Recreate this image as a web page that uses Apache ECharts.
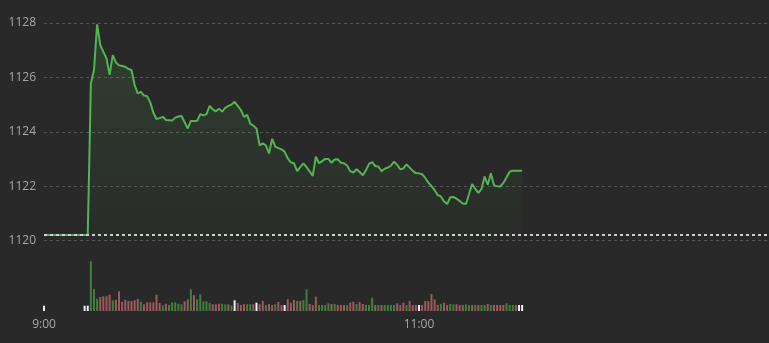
<!DOCTYPE html>
<html><head><meta charset="utf-8">
<script src="https://cdn.jsdelivr.net/npm/echarts@6/dist/echarts.min.js"></script>
<style>html,body{margin:0;padding:0;background:#292929;}#c{width:769px;height:343px;}</style>
</head><body><div id="c"></div>
<script>
// ---- data ----
const categoryCount = 233;              // one category per minute from 9:00
const shownTimeLabels = ['9:00', '11:00'];
const priceMin = 1120, priceMax = 1128, priceStep = 2;
const prevClose = 1120.2;
const price = [
1120.2,1120.2,1120.2,1120.2,1120.2,1120.2,1120.2,1120.2,1120.2,1120.2,1120.2,1120.2,1120.2,1120.2,1120.2,
1125.78,1126.27,1127.95,1127.19,1126.94,1126.70,1126.09,1126.82,1126.55,1126.45,
1126.42,1126.39,1126.31,1126.27,1125.72,1125.41,1125.47,1125.33,1125.31,1125.08,
1124.70,1124.47,1124.50,1124.55,1124.43,1124.42,1124.41,1124.52,1124.56,1124.58,
1124.35,1124.12,1124.40,1124.40,1124.40,1124.65,1124.60,1124.65,1124.95,1124.82,
1124.75,1124.85,1124.74,1124.88,1124.95,1125.00,1125.10,1124.95,1124.80,1124.55,
1124.62,1124.30,1124.22,1124.12,1123.50,1123.57,1123.50,1123.20,1123.74,1123.45,
1123.40,1123.35,1123.27,1123.02,1122.87,1122.84,1122.55,1122.70,1122.84,1122.70,
1122.54,1122.38,1123.08,1122.84,1122.92,1123.00,1123.00,1122.86,1122.98,1122.99,
1122.86,1122.84,1122.76,1122.55,1122.50,1122.62,1122.52,1122.40,1122.58,1122.82,
1122.88,1122.74,1122.72,1122.55,1122.64,1122.68,1122.75,1122.90,1122.78,1122.62,
1122.65,1122.80,1122.68,1122.56,1122.48,1122.47,1122.44,1122.30,1122.13,1122.00,
1121.85,1121.67,1121.62,1121.44,1121.34,1121.59,1121.60,1121.54,1121.45,1121.36,
1121.34,1121.70,1122.08,1121.90,1121.75,1121.90,1122.35,1122.05,1122.47,1122.02,
1122.00,1121.98,1122.12,1122.32,1122.53,1122.57,1122.57,1122.57,1122.57
];
const volume = [
53,null,null,null,null,null,null,null,null,null,null,null,null,53,53,
497,217,123,140,147,147,163,107,113,197,
90,113,100,100,107,120,93,67,87,87,
87,163,80,57,73,60,87,87,73,67,
97,117,217,157,117,167,97,97,80,67,
67,73,73,67,67,53,107,80,60,67,
67,67,67,83,67,100,60,70,60,67,
90,60,60,117,83,110,100,100,110,217,
70,60,143,60,60,60,77,70,70,60,
60,60,60,83,93,70,90,70,60,60,
133,60,60,60,60,60,60,60,77,60,
83,60,100,60,60,60,60,100,100,170,
117,60,70,83,60,70,67,67,60,60,
67,60,60,60,60,60,60,70,60,60,
60,60,60,77,60,60,60,60,60
];
// 1 = up (green), -1 = down (red), 0 = unchanged (white)
const volumeDir = [
0,0,0,0,0,0,0,0,0,0,0,0,0,0,0,
1,1,1,-1,-1,-1,-1,1,-1,-1,
-1,-1,-1,-1,-1,-1,1,-1,-1,-1,
-1,-1,-1,1,-1,1,1,1,1,1,
-1,-1,1,-1,1,1,1,1,1,-1,
-1,-1,1,1,-1,1,0,-1,-1,-1,
1,1,-1,0,-1,-1,1,-1,-1,1,
-1,-1,0,-1,-1,-1,1,-1,1,1,
-1,-1,-1,1,1,1,1,-1,1,-1,
-1,-1,1,-1,-1,1,-1,-1,1,1,
1,-1,1,-1,1,1,1,1,-1,-1,
-1,1,-1,-1,-1,0,-1,-1,-1,-1,
-1,-1,1,-1,-1,1,1,-1,-1,-1,
1,1,-1,1,-1,1,1,-1,1,-1,
-1,-1,-1,1,1,1,-1,0,0
];

// ---- build ----
const categories = [];
for (let i = 0; i < categoryCount; i++) {
  const m = 9 * 60 + i;
  categories.push(Math.floor(m / 60) + ':' + String(m % 60).padStart(2, '0'));
}
const dirColor = { '1': '#3f7f3f', '-1': '#9a5a5e', '0': '#f0f0f0' };
const volData = volume.map((v, i) => v == null ? null : { value: v, itemStyle: { color: dirColor[String(volumeDir[i])] } });

const labelColor = '#a8a8a8';
const chart = echarts.init(document.getElementById('c'), null, { renderer: 'canvas' });
chart.setOption({
  backgroundColor: '#292929',
  animation: false,
  textStyle: { fontFamily: 'Open Sans, sans-serif' },
  grid: [
    { left: 44, right: 0, top: 23, height: 217.5 },
    { left: 44, right: 0, top: 258, height: 53 }
  ],
  xAxis: [
    { type: 'category', gridIndex: 0, data: categories, boundaryGap: false,
      axisLine: { show: false }, axisTick: { show: false }, axisLabel: { show: false }, splitLine: { show: false } },
    { type: 'category', gridIndex: 1, data: categories, boundaryGap: false,
      axisLine: { show: false }, axisTick: { show: false }, splitLine: { show: false },
      axisLabel: { color: labelColor, fontSize: 12, margin: 8,
        interval: (idx, val) => shownTimeLabels.indexOf(val) >= 0 } }
  ],
  yAxis: [
    { type: 'value', gridIndex: 0, min: priceMin, max: priceMax, interval: priceStep,
      axisLine: { show: false }, axisTick: { show: false },
      axisLabel: { color: labelColor, fontSize: 12, margin: 8, formatter: v => String(v) },
      splitLine: { lineStyle: { color: '#555555', type: [3, 3], width: 1 } } },
    { type: 'value', gridIndex: 1, min: 0, max: 530, show: false, splitLine: { show: false } }
  ],
  series: [
    { type: 'line', xAxisIndex: 0, yAxisIndex: 0, data: price, showSymbol: false, symbol: 'none',
      lineStyle: { color: '#52b552', width: 2 },
      areaStyle: { color: new echarts.graphic.LinearGradient(0, 0, 0, 1, [
        { offset: 0, color: 'rgba(82,181,82,0.24)' },
        { offset: 1, color: 'rgba(82,181,82,0.02)' }
      ]) },
      markLine: { silent: true, symbol: ['none', 'none'], label: { show: false },
        lineStyle: { color: '#cfcfcf', type: [3, 3], width: 2 },
        data: [{ yAxis: prevClose }] } },
    { type: 'bar', xAxisIndex: 1, yAxisIndex: 1, data: volData, barWidth: 2 }
  ]
});
</script></body></html>
